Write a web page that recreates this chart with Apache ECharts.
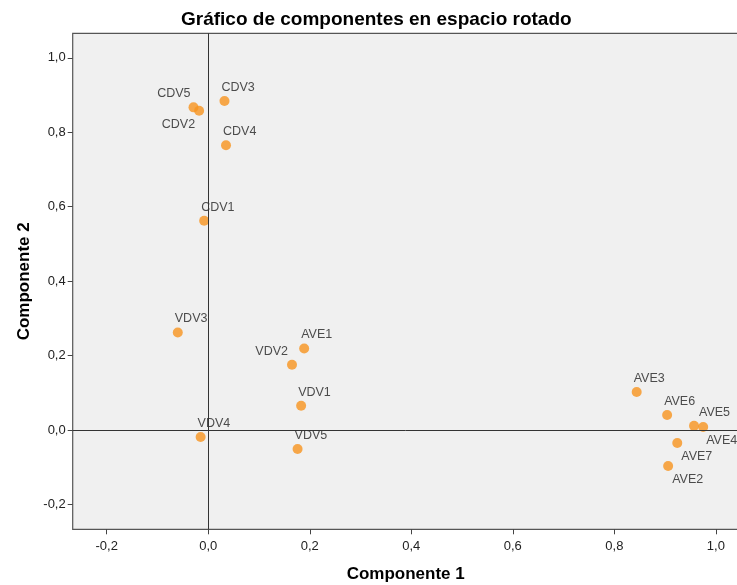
<!DOCTYPE html>
<html>
<head>
<meta charset="utf-8">
<script src="https://cdn.jsdelivr.net/npm/echarts@6/dist/echarts.min.js"></script>
<style>
html,body{margin:0;padding:0;background:#fff;}
#chart{width:737px;height:585px;}
</style>
</head>
<body>
<div id="chart"></div>
<script>
// ---- data ----
var names = ['CDV5','CDV2','CDV3','CDV4','CDV1','VDV3','AVE1','VDV2','VDV1','VDV4','VDV5','AVE3','AVE6','AVE5','AVE4','AVE7','AVE2'];
var comp1 = [-0.029,-0.018,0.032,0.035,-0.008,-0.060,0.189,0.165,0.183,-0.015,0.176,0.844,0.904,0.957,0.975,0.924,0.906];
var comp2 = [0.867,0.858,0.884,0.765,0.562,0.262,0.219,0.175,0.065,-0.019,-0.051,0.102,0.040,0.011,0.008,-0.035,-0.097];
var xTicks = [-0.2,0,0.2,0.4,0.6,0.8,1.0];
var yTicks = [-0.2,0,0.2,0.4,0.6,0.8,1.0];

// ---- label placement (style) ----
var labelPlace = {
  CDV5:{position:'top',align:'right',dx:-3},
  CDV2:{position:'bottom',align:'right',dx:-4},
  VDV2:{position:'top',align:'right',dx:-4},
  AVE5:{position:'top',align:'left',dx:5},
  AVE4:{position:'bottom',align:'left',dx:3},
  AVE7:{position:'bottom',align:'left',dx:4},
  AVE2:{position:'bottom',align:'left',dx:4}
};
var defPlace = {position:'top',align:'left',dx:-3};

var seriesData = names.map(function(n,i){
  var p = labelPlace[n] || defPlace;
  return {
    name:n,
    value:[comp1[i],comp2[i]],
    label:{position:p.position,align:p.align,offset:[p.dx,0],distance:2}
  };
});

function fmt(v){ return (Math.round(v*10)/10).toFixed(1).replace('.',','); }

var font = '"Liberation Sans", Arial, sans-serif';
var chart = echarts.init(document.getElementById('chart'));
chart.setOption({
  backgroundColor:'#ffffff',
  animation:false,
  title:{
    text:'Gráfico de componentes en espacio rotado',
    left:176, top:5,
    textStyle:{fontFamily:font,fontSize:19,fontWeight:'bold',color:'#000'}
  },
  grid:{left:72.7,top:33.3,bottom:55.7,width:666,outerBoundsMode:'none',containLabel:false,
        show:true,backgroundColor:'#f0f0f0',borderColor:'#555',borderWidth:1.2},
  xAxis:{
    type:'value',min:-0.267,max:1.045,
    name:'Componente 1',nameLocation:'middle',nameGap:37,
    nameTextStyle:{fontFamily:font,fontSize:17,fontWeight:'bold',color:'#000'},
    axisLine:{show:false,onZero:false},
    splitLine:{show:false},
    axisTick:{show:true,length:5,lineStyle:{color:'#444'},customValues:xTicks},
    axisLabel:{fontFamily:font,fontSize:13,color:'#222',margin:11,customValues:xTicks,formatter:fmt}
  },
  yAxis:{
    type:'value',min:-0.267,max:1.066,
    name:'Componente 2',nameLocation:'middle',nameGap:40,
    nameTextStyle:{fontFamily:font,fontSize:17,fontWeight:'bold',color:'#000'},
    axisLine:{show:false,onZero:false},
    splitLine:{show:false},
    axisTick:{show:true,length:5,lineStyle:{color:'#444'},customValues:yTicks},
    axisLabel:{fontFamily:font,fontSize:13,color:'#222',margin:7,customValues:yTicks,formatter:fmt}
  },
  series:[{
    type:'scatter',
    data:seriesData,
    symbolSize:10,
    itemStyle:{color:'#f7941e'},
    label:{show:true,formatter:'{b}',fontFamily:font,fontSize:12.5,color:'#222'},
    markLine:{
      silent:true,symbol:'none',
      label:{show:false},
      lineStyle:{color:'#333',width:1,type:'solid'},
      data:[{xAxis:0},{yAxis:0}]
    },
    z:3
  }]
});
</script>
</body>
</html>
